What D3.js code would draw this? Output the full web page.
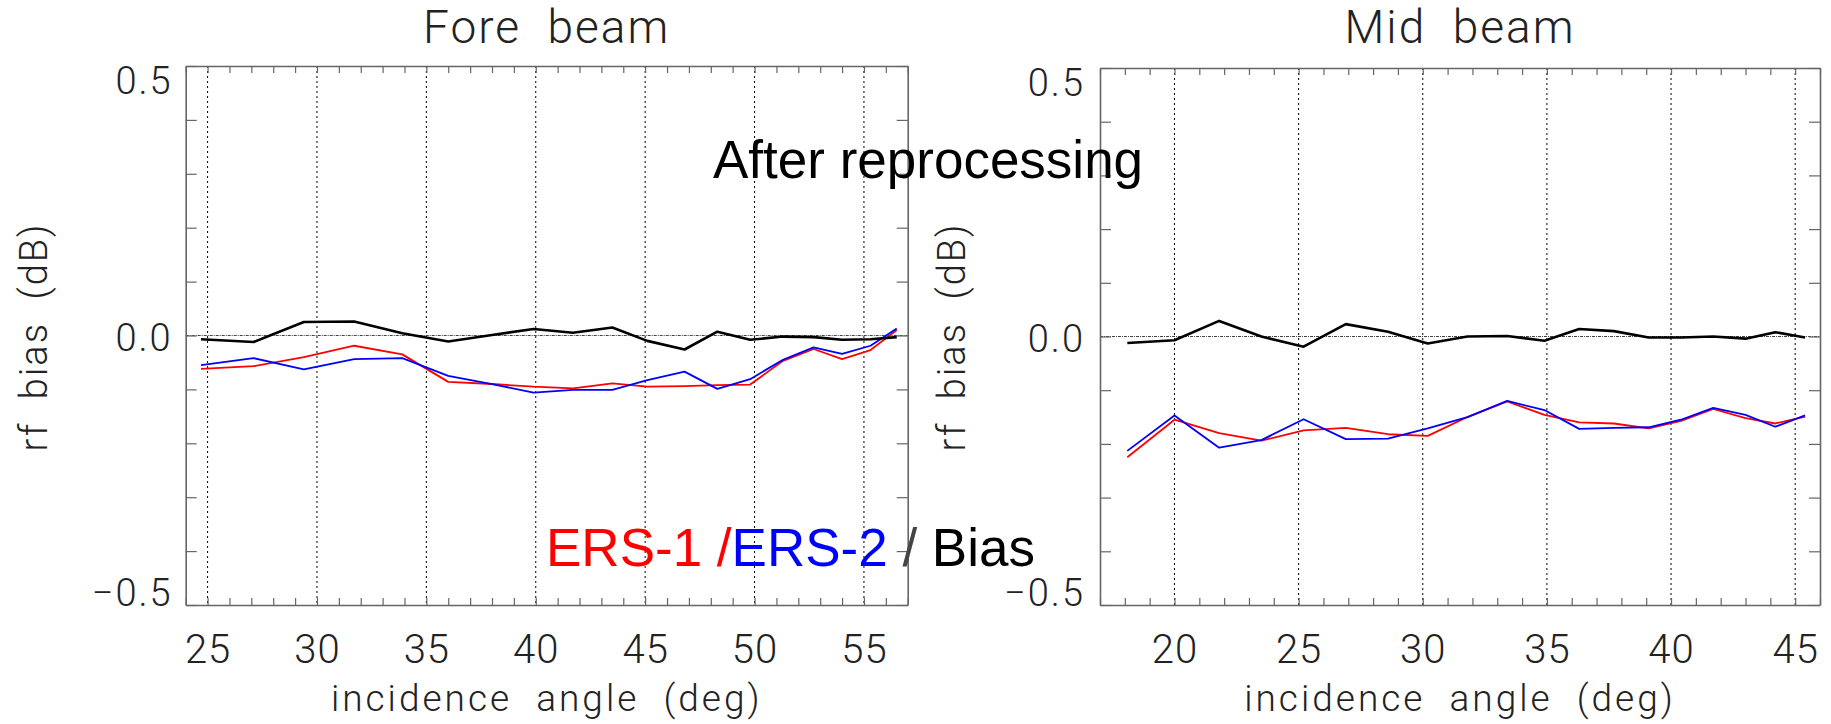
<!DOCTYPE html>
<html>
<head>
<meta charset="utf-8">
<script src="https://cdn.jsdelivr.net/npm/d3@7"></script>
<style>
  body { margin: 0; background: #fff; }
  svg text { font-family: Roboto, "DejaVu Sans", sans-serif; font-weight: 300; fill: #222; }
  svg text.big { font-family: "Liberation Sans", Arial, sans-serif; font-weight: 400; fill: #000; white-space: pre; }
</style>
</head>
<body>
<svg id="chart" width="1831" height="724"></svg>
<script>
// fore beam
var foreAngle = [24.7, 27.1, 29.4, 31.7, 33.9, 36.0, 38.0, 39.9, 41.7, 43.5, 45.1, 46.8, 48.3, 49.8, 51.3, 52.7, 54.0, 55.3, 56.5];
var foreErs1  = [-0.062, -0.057, -0.040, -0.019, -0.035, -0.086, -0.090, -0.095, -0.098, -0.089, -0.095, -0.094, -0.092, -0.091, -0.047, -0.025, -0.044, -0.027, 0.010];
var foreErs2  = [-0.055, -0.042, -0.063, -0.044, -0.042, -0.075, -0.090, -0.106, -0.101, -0.101, -0.083, -0.067, -0.099, -0.081, -0.045, -0.022, -0.034, -0.019, 0.013];
var foreBias  = [-0.007, -0.012, 0.025, 0.026, 0.004, -0.011, 0.001, 0.012, 0.005, 0.015, -0.010, -0.026, 0.007, -0.008, -0.002, -0.003, -0.008, -0.007, -0.003];

// mid beam
var midAngle = [18.1, 20.0, 21.8, 23.5, 25.2, 26.9, 28.6, 30.2, 31.8, 33.4, 34.9, 36.3, 37.7, 39.1, 40.4, 41.7, 43.0, 44.2, 45.4];
var midErs1  = [-0.225, -0.155, -0.180, -0.194, -0.175, -0.170, -0.182, -0.185, -0.150, -0.121, -0.146, -0.160, -0.162, -0.171, -0.157, -0.135, -0.152, -0.162, -0.149];
var midErs2  = [-0.213, -0.147, -0.207, -0.193, -0.154, -0.191, -0.190, -0.171, -0.150, -0.120, -0.137, -0.172, -0.170, -0.169, -0.155, -0.133, -0.146, -0.168, -0.147];
var midBias  = [-0.012, -0.007, 0.029, 0.000, -0.019, 0.023, 0.009, -0.013, 0.000, 0.001, -0.008, 0.014, 0.010, -0.002, -0.002, 0.000, -0.004, 0.008, -0.002];

var foreTicks = [25, 30, 35, 40, 45, 50, 55];
var midTicks  = [20, 25, 30, 35, 40, 45];
var yTicks    = [0.5, 0.0, -0.5];
var yTickText = ["0.5", "0.0", "\u22120.5"];

var svg = d3.select('#chart');

function buildPanel(opts){
  var x = d3.scaleLinear().domain(opts.xDomain).range([opts.left, opts.right]);
  var y = d3.scaleLinear().domain([-0.5, 0.5]).range([opts.bottom, opts.top]);
  var g = svg.append('g');

  // dotted grid at major angles and at zero bias
  g.selectAll('line.vgrid')
      .data(opts.xTicks)
    .enter().append('line')
      .attr('x1', function(d){ return x(d); })
      .attr('x2', function(d){ return x(d); })
      .attr('y1', opts.top).attr('y2', opts.bottom)
      .attr('stroke', '#000').attr('stroke-width', 1)
      .attr('stroke-dasharray', '2,3');

  g.append('line')
      .attr('x1', opts.left).attr('x2', opts.right)
      .attr('y1', y(0)).attr('y2', y(0))
      .attr('stroke', '#444').attr('stroke-width', 1)
      .attr('stroke-dasharray', '3,1,1,1');

  // frame + minor ticks, all inward
  var minorX = d3.range(Math.ceil(opts.xDomain[0]), opts.xDomain[1] + 0.01, 1);
  var minorY = d3.range(-5, 6).map(function(d){ return d / 10; });

  var frame = [
    { ax: d3.axisBottom(x).tickValues(minorX).tickSize(-7), t: 'translate(0,' + opts.bottom + ')' },
    { ax: d3.axisTop(x).tickValues(minorX).tickSize(-7),    t: 'translate(0,' + opts.top + ')' },
    { ax: d3.axisLeft(y).tickValues(minorY).tickSize(-11),  t: 'translate(' + opts.left + ',0)' },
    { ax: d3.axisRight(y).tickValues(minorY).tickSize(-11), t: 'translate(' + opts.right + ',0)' }
  ];
  frame.forEach(function(f){
    var a = g.append('g')
        .attr('transform', f.t)
        .call(f.ax.tickSizeOuter(0).tickFormat(''));
    a.select('.domain').attr('stroke', '#666').attr('stroke-width', 1.6);
    a.selectAll('.tick line').attr('stroke', '#666').attr('stroke-width', 1.2);
  });

  // tick labels
  var xl = g.append('g')
      .attr('transform', 'translate(0,' + opts.bottom + ')')
      .call(d3.axisBottom(x).tickValues(opts.xTicks).tickSize(0).tickPadding(30).tickFormat(d3.format('d')));
  xl.select('.domain').remove();
  xl.selectAll('text')
      .style('font-size', '40px')
      .style('letter-spacing', '1px')
      .attr('fill', '#222');

  var yl = g.append('g')
      .attr('transform', 'translate(' + opts.left + ',0)')
      .call(d3.axisLeft(y).tickValues(yTicks).tickSize(0).tickPadding(opts.yPad)
              .tickFormat(function(d, i){ return yTickText[i]; }));
  yl.select('.domain').remove();
  yl.selectAll('text')
      .style('font-size', '38px')
      .style('letter-spacing', '2px')
      .attr('fill', '#222')
      .attr('dy', function(d){ return d > 0 ? '27px' : (d < 0 ? '0px' : '15px'); });

  // titles
  g.append('text')
      .attr('x', (opts.left + opts.right) / 2)
      .attr('y', 43)
      .attr('text-anchor', 'middle')
      .style('font-size', '46px')
      .style('letter-spacing', '2px')
      .text(opts.title);

  g.append('text')
      .attr('x', (opts.left + opts.right) / 2)
      .attr('y', 711)
      .attr('text-anchor', 'middle')
      .style('font-size', '37px')
      .style('letter-spacing', '3px')
      .text('incidence\u00a0\u00a0angle\u00a0\u00a0(deg)');

  g.append('text')
      .attr('transform', 'translate(' + opts.yTitleX + ',337) rotate(-90)')
      .attr('text-anchor', 'middle')
      .attr('dominant-baseline', 'central')
      .style('font-size', '38px')
      .style('letter-spacing', '2px')
      .text('rf\u00a0\u00a0bias\u00a0\u00a0(dB)');

  // series
  var line = d3.line()
      .x(function(d){ return x(d[0]); })
      .y(function(d){ return y(d[1]); });

  var series = [
    { v: opts.ers1, c: '#ff0000', w: 1.8 },
    { v: opts.ers2, c: '#0000ff', w: 1.8 },
    { v: opts.bias, c: '#000000', w: 2.6 }
  ];
  series.forEach(function(s){
    g.append('path')
        .datum(d3.zip(opts.angle, s.v))
        .attr('fill', 'none')
        .attr('stroke', s.c)
        .attr('stroke-width', s.w)
        .attr('stroke-linejoin', 'round')
        .attr('d', line);
  });
}

buildPanel({
  left: 185.7, right: 907.7, top: 66, bottom: 605,
  xDomain: [24, 57], xTicks: foreTicks, yPad: 13, yTitleX: 34,
  title: 'Fore\u00a0\u00a0beam',
  angle: foreAngle, ers1: foreErs1, ers2: foreErs2, bias: foreBias
});

buildPanel({
  left: 1100, right: 1820, top: 68, bottom: 605,
  xDomain: [17, 46], xTicks: midTicks, yPad: 15, yTitleX: 952,
  title: 'Mid\u00a0\u00a0beam',
  angle: midAngle, ers1: midErs1, ers2: midErs2, bias: midBias
});

// overlaid annotation and legend
svg.append('text')
    .attr('class', 'big')
    .attr('x', 713).attr('y', 178)
    .style('font-size', '53px')
    .text('After reprocessing');

var legend = svg.append('text')
    .attr('class', 'big')
    .attr('x', 546).attr('y', 566)
    .style('font-size', '53px');
legend.append('tspan').style('fill', '#ff0000').text('ERS-1 /');
legend.append('tspan').style('fill', '#0000ff').text('ERS-2');
legend.append('tspan').style('fill', '#444').text(' /');
legend.append('tspan').style('fill', '#000').text(' Bias');
</script>
</body>
</html>
